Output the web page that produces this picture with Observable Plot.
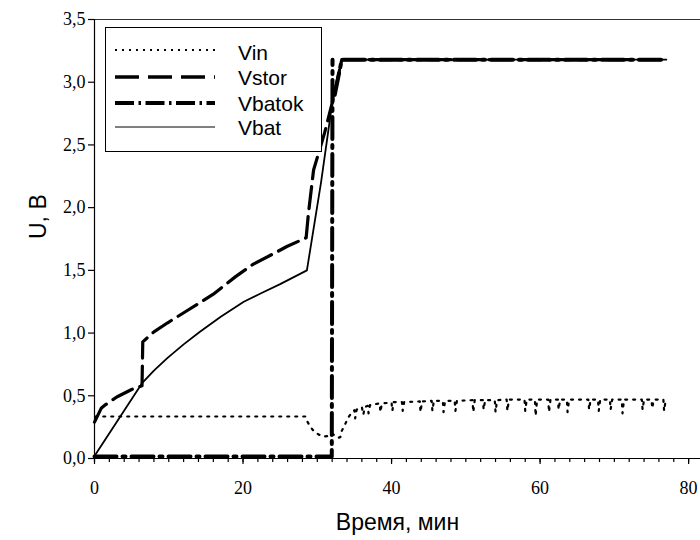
<!DOCTYPE html>
<html><head><meta charset="utf-8">
<script src="https://cdn.jsdelivr.net/npm/d3@7"></script>
<script src="https://cdn.jsdelivr.net/npm/@observablehq/plot@0.6"></script>
<style>
body{margin:0;background:#fff}
#wrap{position:relative;width:700px;height:540px;overflow:hidden}
#legend{position:absolute;left:0;top:0;pointer-events:none}
</style>
</head><body><div id="wrap"></div>
<script>
const xTicks = [0, 20, 40, 60, 80];
const yTicks = [0, 0.5, 1, 1.5, 2, 2.5, 3, 3.5];
const yTickLabels = ["0,0", "0,5", "1,0", "1,5", "2,0", "2,5", "3,0", "3,5"];
const seriesNames = ["Vin", "Vstor", "Vbatok", "Vbat"];
const xTitle = "Время, мин";
const yTitle = "U, B";

const vin = [
  [0.1,0.335],[28.4,0.335],[28.6,0.30],[29.1,0.25],[29.5,0.22],[30.2,0.19],[30.9,0.175],[31.5,0.18],
  [32.0,0.20],[32.4,0.18],[32.8,0.165],[33.1,0.17],[33.3,0.22],[33.8,0.28],[34.2,0.33],[34.7,0.37],
  [35.0,0.385],[35.1,0.32],[35.3,0.39],[36.0,0.41],[36.2,0.35],[36.4,0.41],[36.8,0.42],[36.9,0.36],
  [37.1,0.425],[38.4,0.44],[38.5,0.37],[38.7,0.44],[40.0,0.445],[40.1,0.38],[40.3,0.45],[41.4,0.45],
  [41.5,0.38],[41.7,0.45],[43.8,0.455],[43.9,0.37],[44.1,0.455],[45.4,0.46],[45.5,0.38],[45.7,0.46],
  [46.9,0.46],[47.0,0.37],[47.2,0.46],[48.5,0.46],[48.6,0.38],[48.8,0.46],[50.9,0.465],[51.0,0.37],
  [51.2,0.465],[52.3,0.465],[52.4,0.39],[52.6,0.465],[53.9,0.465],[54.0,0.37],[54.2,0.465],[55.5,0.47],
  [55.6,0.38],[55.8,0.47],[57.9,0.47],[58.0,0.38],[58.2,0.47],[59.3,0.47],[59.4,0.34],[59.6,0.47],
  [61.1,0.47],[61.2,0.37],[61.4,0.47],[62.4,0.47],[62.5,0.39],[62.7,0.47],[63.6,0.47],[63.7,0.37],
  [63.9,0.47],[66.5,0.47],[66.6,0.39],[66.8,0.47],[67.8,0.47],[67.9,0.38],[68.1,0.47],[69.4,0.47],
  [69.5,0.39],[69.7,0.47],[71.0,0.47],[71.1,0.36],[71.3,0.47],[73.7,0.47],[73.8,0.39],[74.0,0.47],
  [75.0,0.47],[75.1,0.40],[75.3,0.47],[76.6,0.47],[76.7,0.38],[76.9,0.46]
];
const vstor = [
  [0,0.29],[0.9,0.40],[1.5,0.43],[3,0.49],[5,0.55],[6.4,0.58],[6.5,0.93],[8,1.01],[9.8,1.08],
  [12.5,1.18],[16,1.31],[19,1.45],[21.4,1.55],[24,1.63],[25.9,1.69],[28.5,1.76],[28.8,1.95],
  [29.5,2.3],[31,2.6],[32.2,2.88],[33.3,3.18],[40,3.18],[50,3.18],[60,3.18],[70,3.18],[77,3.18]
];
// Vbatok: [x, y, segment]
const vbatok = [
  [0,0.015,0],[31.95,0.015,0],[32.05,3.18,0],
  [32.35,2.9,1],[33.3,3.18,1],[40,3.18,1],[50,3.18,1],[60,3.18,1],[70,3.18,1],[77,3.18,1]
];
const vbat = [
  [0,0.02],[6.4,0.6],[8,0.70],[9.8,0.80],[12,0.91],[14.2,1.01],[17,1.13],[20.1,1.25],[22.5,1.32],
  [25,1.39],[28.6,1.5],[30.5,2.2],[32.0,2.83],[33.3,3.18],[40,3.18],[50,3.18],[60,3.18],[70,3.18],[77,3.18]
];

const styles = {
  Vin:    {strokeWidth: 2.2, strokeDasharray: "2,6", legendWidth: 2, legendDash: "2,5"},
  Vstor:  {strokeWidth: 3.2, strokeDasharray: "22,8", legendWidth: 3.5, legendDash: "24,9"},
  Vbatok: {strokeWidth: 4,   strokeDasharray: "22,6,3,6", legendWidth: 4, legendDash: "19,4.5,2.5,4.5"},
  Vbat:   {strokeWidth: 1.8, strokeDasharray: null, legendWidth: 1, legendDash: null}
};
const dataBy = {Vin: vin, Vstor: vstor, Vbatok: vbatok, Vbat: vbat};
const toRows = (arr) => arr.map(([x, y, z]) => ({x, y, z: z ?? 0}));

const lineMark = (name) => Plot.line(toRows(dataBy[name]), {
  x: "x", y: "y", z: "z", stroke: "#000",
  strokeWidth: styles[name].strokeWidth,
  strokeDasharray: styles[name].strokeDasharray,
  strokeLinejoin: "round"
});

const serif = "Liberation Serif";
const sans = "Liberation Sans";

const chart = Plot.plot({
  width: 700, height: 540,
  marginLeft: 94, marginRight: 0, marginTop: 19, marginBottom: 82,
  x: {domain: [0, 81.6]},
  y: {domain: [0, 3.5]},
  style: {fontFamily: serif, fontSize: "18px", color: "#000", background: "#fff"},
  marks: [
    Plot.ruleY([3.5], {stroke: "#333", strokeWidth: 1}),
    lineMark("Vin"),
    lineMark("Vbat"),
    lineMark("Vstor"),
    lineMark("Vbatok"),
    Plot.ruleX([0], {stroke: "#000", strokeWidth: 1.2}),
    Plot.ruleY([0], {stroke: "#000", strokeWidth: 1.2}),
    Plot.axisX({ticks: d3.range(0, 82, 2), tickSize: 4, tickFormat: () => "", label: null, strokeWidth: 1.2}),
    Plot.axisX({ticks: xTicks, tickSize: 6, tickPadding: 17, label: null, strokeWidth: 1.2,
      fontFamily: serif, fontSize: 18}),
    Plot.axisY({ticks: yTicks, tickSize: 6, tickPadding: 3, label: null, strokeWidth: 1.2,
      tickFormat: (d) => yTickLabels[yTicks.indexOf(d)], fontFamily: serif, fontSize: 18}),
    Plot.text([xTitle], {frameAnchor: "bottom", dy: 71, fill: "#000", fontFamily: sans, fontSize: 23}),
    Plot.text([yTitle], {frameAnchor: "left", dx: -56, rotate: -90, fill: "#000", fontFamily: sans, fontSize: 23})
  ]
});
d3.select(chart).selectAll('g[aria-label="x-axis tick label"], g[aria-label="y-axis tick label"]')
  .attr("font-family", serif).style("font-family", serif);
const wrap = document.getElementById("wrap");
wrap.appendChild(chart);

// legend box
const lg = d3.select(wrap).append("svg").attr("id", "legend").attr("width", 700).attr("height", 540);
lg.append("rect").attr("x", 105.5).attr("y", 27.5).attr("width", 216).attr("height", 124)
  .attr("fill", "#fff").attr("stroke", "#000").attr("stroke-width", 1);
const lineYs = [50, 77, 103, 127];
const textYs = [60, 85, 111, 135];
seriesNames.forEach((name, i) => {
  const st = styles[name];
  lg.append("line").attr("x1", 115).attr("x2", 215).attr("y1", lineYs[i]).attr("y2", lineYs[i])
    .attr("stroke", "#000").attr("stroke-width", st.legendWidth)
    .attr("stroke-dasharray", st.legendDash);
  lg.append("text").attr("x", 238).attr("y", textYs[i]).text(name)
    .attr("font-family", sans).attr("font-size", 21).attr("fill", "#000");
});
</script>
</body></html>
